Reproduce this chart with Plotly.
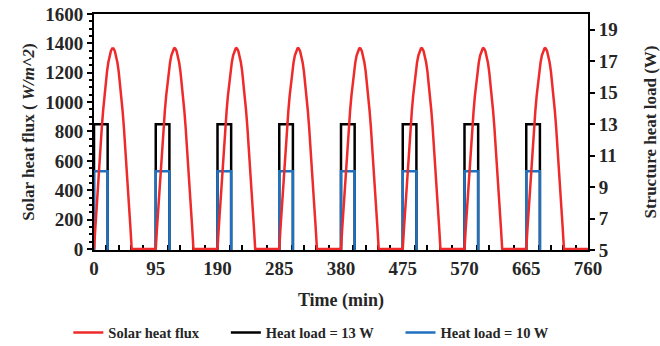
import plotly.graph_objects as go

# Orbit timing (min)
orbit_starts = [0, 95, 190, 285, 380, 475, 570, 665]
t_end = 760

# Solar heat flux over the sunlit arc of one orbit (min after orbit start, W/m^2)
sun_minutes = [0, 2, 4, 6, 8, 10, 12, 14, 16, 18, 20, 22, 24, 26, 28, 29,
               30, 32, 34, 36, 38, 40, 42, 44, 46, 48, 50, 52, 54, 56, 58]
sun_flux = [0, 148, 294, 437, 574, 705, 827, 940, 1042, 1131, 1208, 1270, 1317, 1349, 1365, 1367,
            1365, 1349, 1317, 1270, 1208, 1131, 1042, 940, 827, 705, 574, 437, 294, 148, 0]

# Structure heat load pulses (W), switched on at each orbit start
pulse_minutes = 21
heat_load_high = 13
heat_load_low = 10

# Tick labels
x_ticks = [0, 95, 190, 285, 380, 475, 570, 665, 760]
flux_ticks = [0, 200, 400, 600, 800, 1000, 1200, 1400, 1600]
load_ticks = [5, 7, 9, 11, 13, 15, 17, 19]

solar_x, solar_y = [], []
for s in orbit_starts:
    solar_x += [s + m for m in sun_minutes]
    solar_y += sun_flux
solar_x.append(t_end)
solar_y.append(0)


def pulse_train(level):
    xs, ys = [], []
    for s in orbit_starts:
        xs += [s, s, s + pulse_minutes, s + pulse_minutes]
        ys += [0, level, level, 0]
    xs.append(t_end)
    ys.append(0)
    return xs, ys


hx13, hy13 = pulse_train(heat_load_high)
hx10, hy10 = pulse_train(heat_load_low)

RED = "#EE2A2A"
BLACK = "#000000"
BLUE = "#1F70BF"
TXT = "#262626"
FONT = "Liberation Serif"
GAP = "\u00a0" * 6  # extra spacing after each legend entry


def bold(size):
    return dict(size=size, family=FONT, color=TXT, weight="bold")


fig = go.Figure()
fig.add_trace(go.Scatter(x=hx13, y=hy13, mode="lines", name="Heat load = 13 W" + GAP,
                         line=dict(color=BLACK, width=2.5), yaxis="y", legendrank=2))
fig.add_trace(go.Scatter(x=hx10, y=hy10, mode="lines", name="Heat load = 10 W",
                         line=dict(color=BLUE, width=2.5), yaxis="y", legendrank=3))
fig.add_trace(go.Scatter(x=solar_x, y=solar_y, mode="lines", name="Solar heat flux" + GAP,
                         line=dict(color=RED, width=2.5), yaxis="y2", legendrank=1,
                         cliponaxis=False))

fig.update_layout(
    width=660, height=346,
    margin=dict(l=93.5, r=72, t=14, b=95.5, autoexpand=False),
    paper_bgcolor="white", plot_bgcolor="white",
    font=bold(18),
    showlegend=True,
    legend=dict(orientation="h", x=-0.052, xanchor="left", y=-0.35, yanchor="middle",
                font=bold(14.5), itemwidth=30, traceorder="normal"),
    xaxis=dict(range=[0, t_end], tickmode="array", tickvals=x_ticks,
               ticktext=[str(v) for v in x_ticks], automargin=False,
               showline=True, linecolor="black", linewidth=2, mirror=True,
               layer="below traces",
               ticks="inside", ticklen=5, tickwidth=1.5, tickcolor="black",
               minor=dict(dtick=19, ticks="inside", ticklen=5, tickwidth=1.5, tickcolor="black"),
               showgrid=False, zeroline=False,
               tickfont=bold(19),
               title=dict(text="Time (min)", font=bold(18), standoff=16)),
    yaxis=dict(range=[5, 20], side="right", tickmode="array", tickvals=load_ticks,
               ticktext=[str(v) for v in load_ticks], automargin=False,
               showline=True, linecolor="black", linewidth=2,
               ticks="outside", ticklen=5, tickwidth=1.5, tickcolor="black",
               showgrid=False, zeroline=False,
               tickfont=bold(19),
               title=dict(text="Structure heat load (W)", font=bold(17), standoff=27)),
    yaxis2=dict(range=[-7, 1600], side="left", overlaying="y", tickmode="array",
                tickvals=flux_ticks, ticktext=[str(v) for v in flux_ticks], automargin=False,
                showline=True, linecolor="black", linewidth=2, layer="below traces",
                ticks="outside", ticklen=5, tickwidth=1.5, tickcolor="black",
                minor=dict(dtick=50, ticks="outside", ticklen=3, tickwidth=1.5, tickcolor="black"),
                showgrid=False, zeroline=False,
                tickfont=bold(19),
                title=dict(text="Solar heat flux ( <i>W/m^2</i>)", font=bold(17), standoff=6)),
)

fig.write_html("out.html")
